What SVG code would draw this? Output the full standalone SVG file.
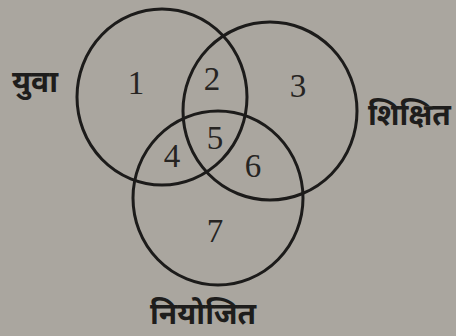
<svg xmlns="http://www.w3.org/2000/svg" width="456" height="336" viewBox="0 0 456 336">
<style>
.c{fill:none;stroke:#1c1b1a;stroke-width:3}
.n{font-family:"Liberation Serif",serif;font-size:33px;fill:#262422;text-anchor:middle}
.l{font-family:"Noto Sans Devanagari","Noto Sans","Lohit Devanagari",sans-serif;font-size:30px;fill:#1e1d1c;font-weight:bold}
</style>
<rect width="456" height="336" fill="#aaa69f"/>
<g id="connectors"></g>
<g id="yuva"><ellipse class="c" cx="162" cy="97" rx="85" ry="88"/><text class="l" x="12" y="92">युवा</text></g>
<g id="shikshit"><ellipse class="c" cx="270" cy="111" rx="87" ry="89"/><text class="l" x="368" y="125">शिक्षित</text></g>
<g id="niyojit"><ellipse class="c" cx="218" cy="198" rx="85" ry="87"/><text class="l" x="150" y="324">नियोजित</text></g>
<g id="regions">
<text class="n" x="136" y="94">1</text>
<text class="n" x="212" y="90">2</text>
<text class="n" x="298" y="97">3</text>
<text class="n" x="172" y="167">4</text>
<text class="n" x="215" y="149">5</text>
<text class="n" x="253" y="177">6</text>
<text class="n" x="215" y="242">7</text>
</g>
</svg>
